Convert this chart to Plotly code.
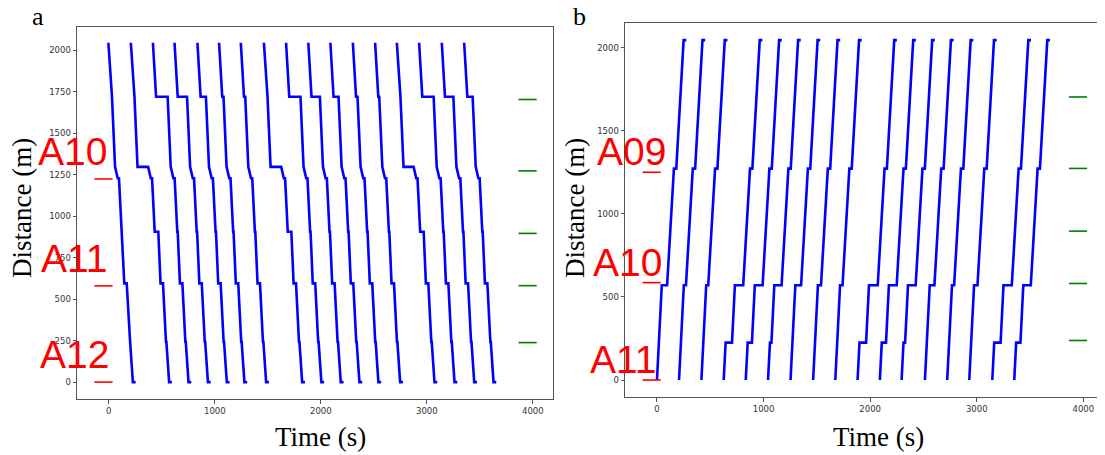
import plotly.graph_objects as go

# page body adds an 8px margin; the figure is sized so that it fills the window exactly
OFF = 8
W, H = 1105 - OFF, 455 - OFF

# ---------------- data: panel a (trains running down) ----------------
a_start = [-4, 208, 416, 620, 836, 1040, 1245, 1463, 1672, 1882, 2090, 2302, 2512, 2717, 2927, 3141, 3352]
a_stop_dist = [2045, 1720, 1297, 1228, 906, 595, 243, 0]
a_run_time = [30, 29, 25, 25, 21, 28, 26]          # travel time between consecutive stops (s)
a_base_dwell = [0, 4, 0, 12, 4, 23, 4, 26]          # dwell at each stop (s)
a_extra_1720 = [0, 0, 105, 84, 46, 8, 8, 0, 102, 75, 43, 10, 5, 0, 103, 75, 46]
a_extra_1297 = [0, 100, 0, 0, 0, 0, 0, 100, 0, 0, 0, 0, 0, 95, 0, 0, 0]
a_extra_906 = [0, 30, 0, 0, 0, 0, 0, 30, 0, 0, 0, 0, 0, 29, 0, 0, 0]
a_labels = ["A10", "A11", "A12"]
a_label_pos = [1224, 580, 0]
a_label_x = [5, 15, 25]

# ---------------- data: panel b (trains running up) ----------------
b_start = [0, 207, 417, 626, 833, 1042, 1253, 1465, 1673, 1882, 2091, 2295, 2514, 2723, 2930, 3146, 3352]
b_stop_dist = [0, 225, 570, 891, 1272, 1713, 2045]
b_run_time = [18, 27, 28, 34, 36, 30]
b_base_dwell = [0, 0, 0, 2, 22, 3, 25]
b_dwell_225 = [0, 0, 0, 60, 40, 14, 0, 0, 0, 62, 40, 15, 0, 0, 0, 60, 40]
b_dwell_570 = [50, 20, 19, 78, 73, 68, 54, 29, 23, 82, 73, 72, 44, 20, 32, 78, 70]
b_labels = ["A09", "A10", "A11"]
b_label_pos = [1250, 586, 0]
b_label_x = [106, 68, 21]

green_pos = [1703, 1273, 896, 581, 238]
green_time = 3950
red_time = -50

x_ticks = [0, 1000, 2000, 3000, 4000]
a_y_ticks = [0, 250, 500, 750, 1000, 1250, 1500, 1750, 2000]
b_y_ticks = [0, 500, 1000, 1500, 2000]


def build(starts, dists, runs, base_dwell, extras):
    xs, ys = [], []
    for k, t0 in enumerate(starts):
        t = t0
        for i, d in enumerate(dists):
            if i > 0:
                t += runs[i - 1]
            xs.append(t); ys.append(d)
            dw = base_dwell[i] + extras.get(i, [0] * len(starts))[k]
            if dw > 0:
                t += dw
                xs.append(t); ys.append(d)
        xs.append(None); ys.append(None)
    return xs, ys


ax, ay = build(a_start, a_stop_dist, a_run_time, a_base_dwell,
               {1: a_extra_1720, 2: a_extra_1297, 4: a_extra_906})
bx, by = build(b_start, b_stop_dist, b_run_time, b_base_dwell,
               {1: b_dwell_225, 2: b_dwell_570})

fig = go.Figure()
blue = dict(color="#0000ff", width=2.6)
fig.add_trace(go.Scatter(x=ax, y=ay, mode="lines", line=blue, xaxis="x", yaxis="y", hoverinfo="skip"))
fig.add_trace(go.Scatter(x=bx, y=by, mode="lines", line=blue, xaxis="x2", yaxis="y2", hoverinfo="skip"))

for xa, ya, pos in (("x", "y", a_label_pos), ("x2", "y2", b_label_pos)):
    fig.add_trace(go.Scatter(x=[red_time] * len(pos), y=pos, mode="markers", xaxis=xa, yaxis=ya,
                             marker=dict(symbol="line-ew", size=13, line=dict(color="#ff0000", width=1.6))))
    fig.add_trace(go.Scatter(x=[green_time] * len(green_pos), y=green_pos, mode="markers", xaxis=xa, yaxis=ya,
                             marker=dict(symbol="line-ew", size=13, line=dict(color="#008000", width=1.6))))


def px(x):
    return (x - OFF) / W


def py(y):
    return 1 - (y - OFF) / H


axis_common = dict(showline=True, mirror=True, linecolor="#555", linewidth=1, ticks="outside",
                   ticklen=3.5, tickcolor="#555", showgrid=False, zeroline=False, automargin=False,
                   tickfont=dict(family="DejaVu Sans", size=8.5, color="#333"))

fig.update_layout(
    width=W, height=H, margin=dict(l=0, r=0, t=0, b=0, autoexpand=False),
    paper_bgcolor="white", plot_bgcolor="white", showlegend=False,
    xaxis=dict(domain=[px(77), px(553)], range=[-300, 4190], tickvals=x_ticks, anchor="y", **axis_common),
    yaxis=dict(domain=[py(399), py(27)], range=[-102, 2140], tickvals=a_y_ticks, anchor="x", **axis_common),
    xaxis2=dict(domain=[px(625), px(1104)], range=[-300, 4194], tickvals=x_ticks, anchor="y2", **axis_common),
    yaxis2=dict(domain=[py(397), py(23)], range=[-102, 2148], tickvals=b_y_ticks, anchor="x2", **axis_common),
)

serif = dict(family="Liberation Serif", color="black")
ctr = dict(xref="paper", yref="paper", showarrow=False, xanchor="center", yanchor="middle")
ann = []
ann.append(dict(text="a", x=px(37.5), y=py(17), font=dict(size=26, **serif), **ctr))
ann.append(dict(text="b", x=px(579), y=py(17), font=dict(size=26, **serif), **ctr))
for xc in (22, 575):
    ann.append(dict(text="Distance (m)", x=px(xc), y=py(208), textangle=-90,
                    font=dict(size=27, **serif), **ctr))
for xc in (320, 878):
    ann.append(dict(text="Time (s)", x=px(xc), y=py(437), font=dict(size=27, **serif), **ctr))
for labels, pos, lx, xr, yr, ysh in ((a_labels, a_label_pos, a_label_x, "x", "y", 4),
                                     (b_labels, b_label_pos, b_label_x, "x2", "y2", -3)):
    for lab, p, xpos in zip(labels, pos, lx):
        ann.append(dict(text=lab, x=xpos, y=p, xref=xr, yref=yr, showarrow=False,
                        xanchor="right", yanchor="bottom", yshift=ysh,
                        font=dict(family="Liberation Sans", size=39, color="#ff0000")))
fig.update_layout(annotations=ann)

fig.write_html("out.html")
